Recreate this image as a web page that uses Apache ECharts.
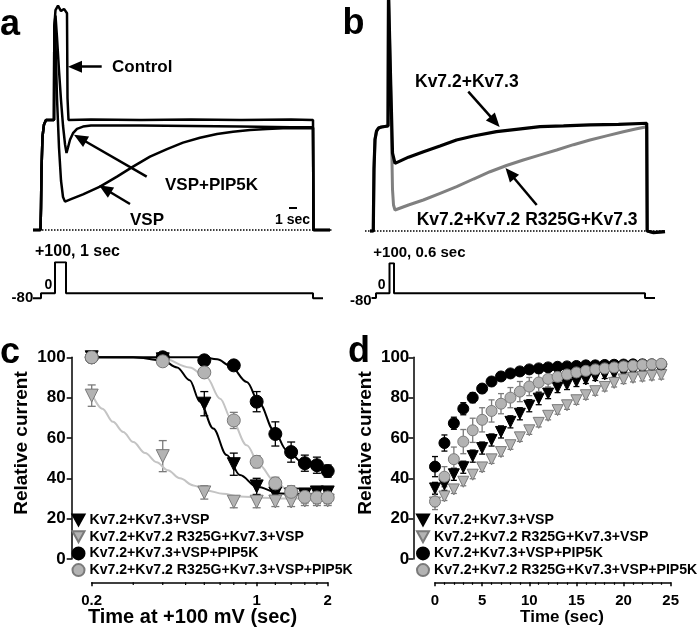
<!DOCTYPE html>
<html>
<head>
<meta charset="utf-8">
<script src="https://cdn.jsdelivr.net/npm/echarts@6/dist/echarts.min.js"></script>
<style>html,body{margin:0;padding:0;background:#fff}#chart{width:697px;height:630px}</style>
</head>
<body>
<div id="chart"></div>
<script>
// ===== Panel a: current traces (time in s, current in % of steady level) =====
const aCtrlT = [-0.8,-0.05,0,0.05,0.15,0.3,0.5,1.3,1.33,1.45,1.7,2.0,2.3,2.6,2.65,2.75,5,10,15,20,25,27.2,27.25,28.9];
const aCtrlI = [0,0,20,55,85,96,100,100,185,200,204,199,201,197,120,100,100.5,100,100.5,100,100.5,100,0,0];
const aPipT = [-0.8,-0.05,0,0.05,0.15,0.3,0.5,1.3,1.33,1.45,1.6,1.8,2.0,2.2,2.4,2.55,2.7,2.9,3.2,3.6,4.2,5,7,10,15,20,25,27.2,27.25,28.9];
const aPipI = [0,0,20,55,85,96,100,100,185,195,175,145,118,95,78,70,75,82,88,92,94,95,95,95,94.5,94,93.5,93.5,0,0];
const aVspT = [-0.8,-0.05,0,0.05,0.15,0.3,0.5,1.3,1.33,1.45,1.6,1.8,2.0,2.2,2.4,3.0,4.2,5.9,7.6,9.2,10.9,12.6,14.2,15.9,17.6,19.2,20.9,22.6,24.2,27.2,27.25,28.9];
const aVspI = [0,0,20,55,85,96,100,100,185,170,120,75,45,30,25.8,28,32.4,39.4,48.5,57.6,66.7,73.6,79.4,83.9,87.3,89.4,90.9,91.8,92.4,92.7,0,0];
// voltage protocol a (s, mV)
const protoAT = [-0.8,0,0,1.4,1.4,2.5,2.5,27.2,27.2,28.2];
const protoAV = [-80,-80,0,0,100,100,0,0,-80,-80];

// ===== Panel b =====
const bWtT = [-0.35,-0.02,0,0.05,0.15,0.3,0.5,0.8,1.45,1.5,1.62,1.7,1.9,2.15,3.5,5.0,6.65,8.3,10.0,12.3,14.5,16.65,19,21.65,24.5,27.32,27.37,28,29.15];
const bWtI = [0,0,20,60,88,96,99,100,101,230,230,150,75,65,71,76.3,81.7,87.5,91.3,95.5,98,100.3,101,102,102.5,103.6,0,-1.5,-0.5];
const bMutT = [-0.35,-0.02,0,0.05,0.15,0.3,0.5,0.8,1.45,1.5,1.62,1.75,1.9,2.0,2.15,3.5,4.98,6.6,8.32,10,11.65,13.3,14.98,16.6,18.32,20,21.65,23.3,24.98,26.2,27.32,27.37,28,29.15];
const bMutI = [0,0,20,60,88,96,99,100,101,230,230,120,40,25,20.2,25,29.8,36,42.6,50,57,63,68.3,73,77.9,83,87.5,91.5,95.5,98,100.3,0,-1.5,-0.5];
const protoBT = [-0.2,0.25,0.25,1.6,1.6,2.05,2.05,27.15,27.15,28.15];
const protoBV = [-80,-80,0,0,100,100,0,0,-80,-80];

// ===== Panel c =====
const S1 = 'Kv7.2+Kv7.3+VSP';
const S2 = 'Kv7.2+Kv7.2 R325G+Kv7.3+VSP';
const S3 = 'Kv7.2+Kv7.3+VSP+PIP5K';
const S4 = 'Kv7.2+Kv7.2 R325G+Kv7.3+VSP+PIP5K';
const cX = [0.2,0.4,0.6,0.8,1.0,1.2,1.4,1.6,1.8,2.0];
const cBT = [100,99,77,47,36,32.5,32,32,33,33];
const cBTe = [1,1.5,6,5.5,4,2,2,2,2,2];
const cGT = [81,51,33,28.4,28.4,28.5,28.5,29,29,29];
const cGTe = [5.3,7.7,3.3,3,3,2.5,2.5,2.5,2.5,2.5];
const cBC = [100,100,98.5,96,78,62,53,47.5,46.5,43.6];
const cBCe = [1,1,1.5,1.5,5,6,5,4,4,3];
const cGC = [100,98,92.5,68.7,48.2,37.5,33.3,30.8,30.5,30.5];
const cGCe = [1,2,2,4,3,3,3,3,3,3];
const fitBTx = [0.2,0.3,0.4,0.46,0.52,0.575,0.655,0.746,0.85,1.0,1.26,1.5,2.0];
const fitBTy = [100,100,98.5,95,88.6,78,64.7,51.5,41.6,35.8,32.5,32.2,32];
const fitGTx = [0.2,0.222,0.246,0.272,0.3,0.337,0.377,0.42,0.473,0.54,0.614,0.72,0.85,1.05,1.26,1.6,2.0];
const fitGTy = [82,74.5,68,63,58,52.5,48,44,40,36.5,34,32.3,31,30.4,30,30,30];
const fitBCx = [0.2,0.59,0.68,0.77,0.908,1.03,1.18,1.34,1.58,2.0];
const fitBCy = [100,100,99,96,87.8,77,63.9,54,47.4,44];
const fitGCx = [0.2,0.4,0.52,0.614,0.70,0.784,0.908,1.03,1.18,1.39,2.0];
const fitGCy = [100,99.5,95,90,79.5,69,56.4,46.5,39,33.3,31];
const cMinorTicks = [0.3,0.4,0.5,0.6,0.7,0.8,0.9,1.2,1.4,1.6,1.8];

// ===== Panel d =====
const dT = [0,1,2,3,4,5,6,7,8,9,10,11,12,13,14,15,16,17,18,19,20,21,22,23,24];
const dBT = [35,37,42,45.5,51,55,59,63,68,72,76,79.5,82,85,86.5,88,89,90.5,91.5,92,92.5,93,93.5,94,94];
const dBTe = [3,3,3,3,3,3,3,3,3,3,3,3,2.5,2.5,2.5,2.5,2,2,2,2,2,2,2,2,2];
const dGT = [28,31,34.5,38.3,41.8,45.4,49.4,53,56.4,60.3,63.8,67.5,71,73.8,76.2,78.7,81.2,83.2,85.3,87.3,89,89.8,90.3,90.8,91.2];
const dGTe = [2,2,2,2,2,2,2,2,2,2,2,2,2,2,2,2,2,2,2,2,2,2,2,2,2];
const dBC = [45.8,57.5,67.3,74.5,80,84.5,88,90.5,92,93,94,94.5,95,95.3,95.5,95.7,96,96,96.2,96.3,96.4,96.5,96.5,96.5,96.5];
const dBCe = [5,4,3,3,2.5,2,2,2,1.5,1.5,1.5,1.5,1.5,1.5,1.5,1.5,1.5,1.5,1.5,1.5,1.5,1.5,1.5,1.5,1.5];
const dGC = [28.5,40.8,49.5,58.2,63.8,69,73.4,77,80,83,85.5,87.5,89.3,90.3,91.5,92.5,93.3,94,94.5,95,95.5,95.8,96.2,96.5,96.8];
const dGCe = [4,5,6,6,6,6,5.5,5,5,5,4.5,4.5,4,4,3.5,3.5,3,3,3,2.5,2.5,2.5,2.5,2,2];

// ================= build chart =================
const FONT = '"Liberation Sans", Arial, Helvetica, sans-serif';
const BLACK = '#000';
const GRAYFILL = '#b3b3b3';
const GRAYLINE = '#7a7a7a';
const FITGRAY = '#c4c4c4';
const DOWN_TRI = 'path://M0,0L10,0L5,9Z';
const pairs = (xs, ys) => xs.map((x, i) => [x, ys[i]]);
const level = v => (v < 0 ? v * 0.2 : v); // schematic protocol drawing

function hiddenX(gi, min, max) { return {type:'value', gridIndex:gi, min, max, show:false}; }
function hiddenY(gi, min, max) { return {type:'value', gridIndex:gi, min, max, show:false}; }

function traceLine(xi, yi, xs, ys, color, width, z, extra) {
  return Object.assign({type:'line', xAxisIndex:xi, yAxisIndex:yi, data:pairs(xs, ys), showSymbol:false,
    symbol:'none', lineStyle:{color, width}, itemStyle:{color}, z, silent:true}, extra || {});
}
function arrowMark(lines) {
  return {silent:true, symbol:['none','triangle'], symbolSize:[12,14], label:{show:false},
    lineStyle:{color:BLACK, width:2.5, type:'solid'}, emphasis:{disabled:true},
    data: lines.map(l => [{coord:l[0]}, {coord:l[1]}])};
}
function errSeries(xi, yi, xs, ys, es, color, cap) {
  return {type:'custom', xAxisIndex:xi, yAxisIndex:yi, silent:true, z:2, clip:false,
    data: xs.map((x, i) => [x, ys[i], es[i]]),
    encode:{x:0, y:1},
    renderItem: (p, api) => {
      const x = api.value(0), y = api.value(1), e = api.value(2);
      const t = api.coord([x, y + e]), b = api.coord([x, y - e]);
      const st = {stroke:color, lineWidth:1.3};
      return {type:'group', children:[
        {type:'line', shape:{x1:t[0], y1:t[1], x2:b[0], y2:b[1]}, style:st},
        {type:'line', shape:{x1:t[0]-cap, y1:t[1], x2:t[0]+cap, y2:t[1]}, style:st},
        {type:'line', shape:{x1:b[0]-cap, y1:b[1], x2:b[0]+cap, y2:b[1]}, style:st}
      ]};
    }};
}
function scat(xi, yi, name, xs, ys, shape, size, gray, z) {
  return {type:'scatter', name, xAxisIndex:xi, yAxisIndex:yi, data:pairs(xs, ys), clip:false,
    symbol: shape === 'tri' ? 'triangle' : 'circle', symbolRotate: shape === 'tri' ? 180 : 0,
    symbolSize:size, z,
    itemStyle: gray ? {color:GRAYFILL, borderColor:GRAYLINE, borderWidth:1, opacity:1}
                    : {color:BLACK, borderColor:BLACK, borderWidth:1, opacity:1}};
}
function fit(xi, yi, xs, ys, color) {
  return {type:'line', xAxisIndex:xi, yAxisIndex:yi, data:pairs(xs, ys), showSymbol:false, symbol:'none',
    smooth:0.35, smoothMonotone:'x', clip:false, silent:true, z:3, lineStyle:{color, width:2}};
}

const axisText = {color:BLACK, fontFamily:FONT, fontWeight:'bold', fontSize:15};
function dataX(gi, extra) {
  return Object.assign({gridIndex:gi, offset:23.3, position:'bottom',
    axisLine:{show:true, onZero:false, lineStyle:{color:BLACK, width:1.5}},
    axisTick:{show:true, length:4, lineStyle:{color:BLACK, width:1.5}},
    axisLabel:Object.assign({margin:11}, axisText), splitLine:{show:false}}, extra);
}
function dataY(gi, off, margin) {
  return {type:'value', gridIndex:gi, min:0, max:100, interval:20, offset:off, position:'left',
    axisLine:{show:true, onZero:false, lineStyle:{color:BLACK, width:1.5}},
    axisTick:{show:true, length:5, lineStyle:{color:BLACK, width:1.5}},
    axisLabel:Object.assign({margin}, axisText, {fontSize:17}), splitLine:{show:false}};
}

const grids = [
  {left:33, top:0, width:300, height:241},        // a traces
  {left:33, top:262.3, width:300, height:37.2},   // a protocol
  {left:365, top:0, width:300, height:241},       // b traces
  {left:365, top:263.3, width:300, height:36},    // b protocol
  {left:91.7, top:357.3, width:236, height:201.7},// c
  {left:435, top:357.3, width:235.7, height:201.7}// d
].map(g => Object.assign({outerBoundsMode:'none', containLabel:false, show:false}, g));

const xAxes = [
  hiddenX(0, -0.8, 29.2), hiddenX(1, -0.8, 29.2),
  hiddenX(2, -0.85, 29.15), hiddenX(3, -0.85, 29.15),
  dataX(4, {type:'log', logBase:10, min:0.2, max:2, axisLabel:Object.assign({margin:11, formatter: v => String(+v.toFixed(2))}, axisText)}),
  dataX(5, {type:'value', min:0, max:25, interval:5,
    minorTick:{show:true, splitNumber:5, length:2.5, lineStyle:{color:BLACK, width:1.2}}})
];
const yAxes = [
  hiddenY(0, -10, 209.1), hiddenY(1, -20, 100),
  hiddenY(2, -9.6, 222.1), hiddenY(3, -20, 100),
  dataY(4, 20, 6), dataY(5, 21.7, 4)
];

const series = [
  // ---- panel a ----
  traceLine(0, 0, aVspT, aVspI, BLACK, 2.5, 3, {markLine:{silent:true, symbol:'none', label:{show:false},
      lineStyle:{type:'dotted', color:BLACK, width:1.5}, data:[{yAxis:0}]}}),
  traceLine(0, 0, aPipT, aPipI, BLACK, 2.5, 3),
  traceLine(0, 0, aCtrlT, aCtrlI, BLACK, 2.5, 3, {markLine: arrowMark([
      [[6.07,148.5],[3.4,148.5]],
      [[10.57,48.5],[3.9,83.4]],
      [[8.9,23.6],[6.4,37.3]]
  ])}),
  traceLine(1, 1, protoAT, protoAV.map(level), BLACK, 2, 3),
  // ---- panel b ----
  traceLine(2, 2, bMutT, bMutI, '#808080', 3, 3, {markLine:{silent:true, symbol:'none', label:{show:false},
      lineStyle:{type:'dotted', color:BLACK, width:1.5}, data:[{yAxis:0}]}}),
  traceLine(2, 2, bWtT, bWtI, BLACK, 3.2, 4, {markLine: arrowMark([
      [[9.48,134],[12.15,105.1]],
      [[16.32,25],[13.65,55.5]]
  ])}),
  traceLine(3, 3, protoBT, protoBV.map(level), BLACK, 2, 3),
  // ---- panel c ----
  errSeries(4, 4, cX, cBT, cBTe, BLACK, 4),
  errSeries(4, 4, cX, cGT, cGTe, GRAYLINE, 4),
  errSeries(4, 4, cX, cBC, cBCe, BLACK, 4),
  errSeries(4, 4, cX, cGC, cGCe, GRAYLINE, 4),
  fit(4, 4, fitGTx, fitGTy, FITGRAY),
  fit(4, 4, fitGCx, fitGCy, FITGRAY),
  fit(4, 4, fitBTx, fitBTy, BLACK),
  fit(4, 4, fitBCx, fitBCy, BLACK),
  scat(4, 4, S1, cX, cBT, 'tri', 13, false, 5),
  scat(4, 4, S2, cX, cGT, 'tri', 13, true, 6),
  scat(4, 4, S3, cX, cBC, 'circ', 13, false, 7),
  scat(4, 4, S4, cX, cGC, 'circ', 13, true, 8),
  {type:'custom', xAxisIndex:4, yAxisIndex:4, silent:true, clip:false, z:2,
    data: cMinorTicks.map(v => [v, 0]), encode:{x:0, y:1},
    renderItem: (p, api) => {
      const pt = api.coord([api.value(0), 0]);
      return {type:'line', shape:{x1:pt[0], y1:pt[1]+23.3, x2:pt[0], y2:pt[1]+26}, style:{stroke:BLACK, lineWidth:1.2}};
    }},
  // ---- panel d ----
  errSeries(5, 5, dT, dBT, dBTe, BLACK, 3),
  errSeries(5, 5, dT, dGT, dGTe, GRAYLINE, 3),
  errSeries(5, 5, dT, dBC, dBCe, BLACK, 3),
  errSeries(5, 5, dT, dGC, dGCe, GRAYLINE, 3),
  scat(5, 5, S1, dT, dBT, 'tri', 11, false, 5),
  scat(5, 5, S2, dT, dGT, 'tri', 11, true, 6),
  scat(5, 5, S3, dT, dBC, 'circ', 11, false, 7),
  scat(5, 5, S4, dT, dGC, 'circ', 11, true, 8)
];

function legendAt(left) {
  return {show:true, orient:'vertical', left, top:513, padding:0, itemGap:2.7, itemWidth:12, itemHeight:12,
    selectedMode:false,
    data:[{name:S1, icon:DOWN_TRI}, {name:S2, icon:DOWN_TRI}, {name:S3, icon:'circle'}, {name:S4, icon:'circle'}],
    textStyle:{color:BLACK, fontFamily:FONT, fontWeight:'bold', fontSize:14.1, lineHeight:14}};
}

function txt(x, y, text, size, align, rot) {
  return {type:'text', x, y, rotation: rot || 0, silent:true, z:100,
    style:{text, fill:BLACK, fontFamily:FONT, fontWeight:'bold', fontSize:size,
      align: align || 'left', verticalAlign:'middle'}};
}

const graphics = [
  txt(0, 25, 'a', 36), txt(342.5, 24, 'b', 36), txt(0, 353, 'c', 36), txt(348, 352.5, 'd', 36),
  txt(112, 67, 'Control', 17), txt(165, 185, 'VSP+PIP5K', 17), txt(130, 220, 'VSP', 17),
  txt(275, 220, '1 sec', 14),
  {type:'line', silent:true, shape:{x1:289, y1:208, x2:297, y2:208}, style:{stroke:BLACK, lineWidth:2}},
  txt(35, 252, '+100, 1 sec', 16), txt(48.3, 285, '0', 14, 'center'), txt(33.3, 298.3, '-80', 15, 'right'),
  txt(415, 82, 'Kv7.2+Kv7.3', 17.5), txt(416.7, 220, 'Kv7.2+Kv7.2 R325G+Kv7.3', 17.5),
  txt(373.3, 253.3, '+100, 0.6 sec', 15), txt(381.7, 285, '0', 14, 'center'), txt(371.7, 301, '-80', 15, 'right'),
  txt(22, 443, 'Relative current', 19, 'center', Math.PI / 2),
  txt(365.5, 443, 'Relative current', 19, 'center', Math.PI / 2),
  txt(192.5, 617.7, 'Time at +100 mV (sec)', 20, 'center'),
  txt(562, 617.7, 'Time (sec)', 17, 'center')
];

const chart = echarts.init(document.getElementById('chart'), null, {renderer:'canvas'});
chart.setOption({
  animation:false,
  backgroundColor:'#fff',
  textStyle:{fontFamily:FONT},
  grid: grids,
  xAxis: xAxes,
  yAxis: yAxes,
  legend: [legendAt(71.5), legendAt(416)],
  tooltip:{show:false},
  series,
  graphic: graphics
});
</script>
</body>
</html>
